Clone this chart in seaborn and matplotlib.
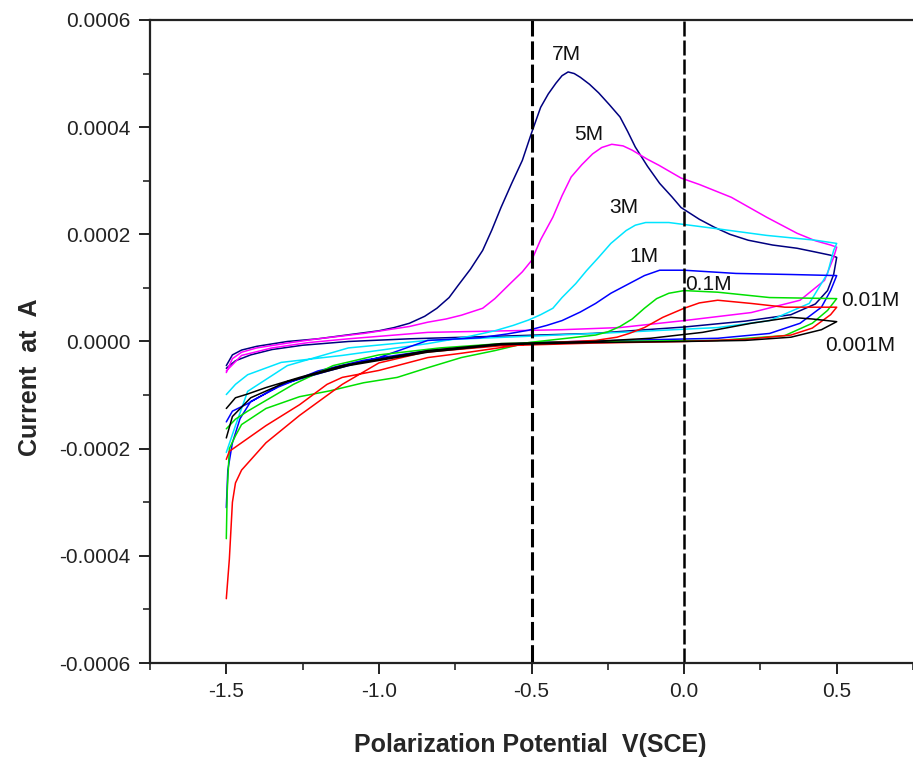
import pandas as pd
import matplotlib.pyplot as plt
import matplotlib.ticker as mticker
import seaborn as sns

# Cyclic voltammograms, current in units of 1e-4 A
# each curve: peak branch (-1.5 -> 0.5) then baseline branch (0.5 -> -1.5)
v_7M = [-1.50, -1.48, -1.45, -1.40, -1.30, -1.20, -1.00, -0.95, -0.90, -0.85, -0.81, -0.77, -0.74, -0.70,
        -0.66, -0.63, -0.60, -0.565, -0.53, -0.50, -0.47, -0.445, -0.42, -0.40, -0.38, -0.36, -0.34, -0.31,
        -0.28, -0.245, -0.21, -0.185, -0.16, -0.12, -0.08, -0.04, -0.01, 0.05, 0.10, 0.15, 0.21, 0.29,
        0.37, 0.43, 0.48, 0.50,
        0.49, 0.47, 0.43, 0.35, 0.20, 0.00, -0.30, -0.60, -0.90, -1.10, -1.25, -1.35, -1.42, -1.47, -1.50]
i_7M = [-0.45, -0.25, -0.16, -0.09, 0.00, 0.05, 0.20, 0.26, 0.34, 0.47, 0.62, 0.82, 1.05, 1.35,
        1.70, 2.08, 2.50, 2.95, 3.38, 3.89, 4.37, 4.62, 4.82, 4.96, 5.03, 5.00, 4.93, 4.80,
        4.64, 4.42, 4.19, 3.92, 3.63, 3.27, 2.95, 2.70, 2.50, 2.28, 2.13, 2.00, 1.89, 1.80,
        1.74, 1.67, 1.61, 1.57,
        1.25, 0.95, 0.70, 0.50, 0.38, 0.27, 0.15, 0.10, 0.05, 0.00, -0.07, -0.15, -0.25, -0.36, -0.50]

v_5M = [-1.50, -1.48, -1.45, -1.40, -1.30, -1.20, -1.05, -0.90, -0.84, -0.78, -0.73, -0.66, -0.62, -0.57,
        -0.53, -0.50, -0.47, -0.43, -0.40, -0.37, -0.335, -0.30, -0.27, -0.237, -0.20, -0.17, -0.12,
        -0.083, -0.01, 0.05, 0.155, 0.27, 0.37, 0.43, 0.48, 0.50,
        0.49, 0.46, 0.38, 0.22, 0.00, -0.21, -0.40, -0.84, -1.10, -1.23, -1.35, -1.45, -1.50]
i_5M = [-0.58, -0.32, -0.20, -0.12, -0.03, 0.05, 0.15, 0.28, 0.36, 0.42, 0.49, 0.62, 0.80, 1.08,
        1.30, 1.51, 1.90, 2.32, 2.72, 3.07, 3.30, 3.50, 3.62, 3.68, 3.65, 3.57, 3.40,
        3.29, 3.05, 2.93, 2.69, 2.32, 2.02, 1.88, 1.80, 1.76,
        1.57, 1.14, 0.77, 0.54, 0.39, 0.26, 0.22, 0.17, 0.05, -0.02, -0.12, -0.26, -0.55]

v_3M = [-1.50, -1.47, -1.43, -1.32, -1.12, -0.84, -0.70, -0.62, -0.56, -0.51, -0.47, -0.43, -0.40, -0.355,
        -0.32, -0.28, -0.24, -0.19, -0.16, -0.126, -0.05, 0.10, 0.27, 0.43, 0.50,
        0.49, 0.47, 0.41, 0.28, 0.11, -0.21, -0.50, -0.84, -1.10, -1.30, -1.43, -1.47, -1.50]
i_3M = [-0.99, -0.80, -0.62, -0.39, -0.26, -0.04, 0.10, 0.20, 0.30, 0.40, 0.50, 0.62, 0.82, 1.08,
        1.32, 1.57, 1.83, 2.07, 2.17, 2.22, 2.22, 2.11, 1.98, 1.89, 1.83,
        1.70, 1.27, 0.71, 0.39, 0.26, 0.17, 0.10, 0.02, -0.12, -0.45, -0.93, -1.57, -2.07]

v_1M = [-1.50, -1.48, -1.43, -1.32, -1.16, -1.00, -0.84, -0.67, -0.58, -0.51, -0.45, -0.40, -0.34, -0.29,
        -0.24, -0.18, -0.13, -0.08, 0.00, 0.17, 0.35, 0.50,
        0.48, 0.45, 0.38, 0.28, 0.11, -0.21, -0.50, -0.84, -1.05, -1.20, -1.33, -1.42, -1.455, -1.48,
        -1.495, -1.50]
i_1M = [-1.50, -1.30, -1.16, -0.80, -0.54, -0.30, 0.02, 0.07, 0.14, 0.21, 0.30, 0.39, 0.55, 0.71,
        0.90, 1.08, 1.23, 1.33, 1.33, 1.27, 1.25, 1.23,
        0.95, 0.64, 0.34, 0.15, 0.06, 0.02, -0.02, -0.17, -0.35, -0.55, -0.85, -1.12, -1.44, -1.89,
        -2.40, -3.10]

v_01M = [-1.50, -1.497, -1.49, -1.47, -1.45, -1.37, -1.26, -1.16, -1.05, -0.94, -0.84, -0.73, -0.62, -0.51,
         -0.29, -0.25, -0.21, -0.17, -0.13, -0.09, -0.05, 0.00, 0.11, 0.28, 0.50,
         0.47, 0.42, 0.33, 0.11, -0.30, -0.60, -0.80, -1.00, -1.15, -1.28, -1.37, -1.43, -1.47, -1.50]
i_01M = [-3.68, -2.80, -2.00, -1.76, -1.55, -1.25, -1.03, -0.92, -0.77, -0.67, -0.49, -0.30, -0.17, -0.02,
         0.12, 0.18, 0.28, 0.42, 0.62, 0.80, 0.90, 0.95, 0.92, 0.82, 0.80,
         0.58, 0.34, 0.11, 0.02, 0.00, -0.04, -0.12, -0.25, -0.45, -0.80, -1.10, -1.30, -1.45, -1.63]

v_001M = [-1.50, -1.49, -1.45, -1.37, -1.26, -1.17, -1.12, -1.00, -0.84, -0.73, -0.51, -0.29, -0.22, -0.18,
          -0.13, -0.07, 0.00, 0.05, 0.11, 0.22, 0.33, 0.50,
          0.48, 0.42, 0.35, 0.20, 0.00, -0.30, -0.60, -0.85, -1.00, -1.12, -1.26, -1.37, -1.45, -1.47,
          -1.48, -1.49, -1.50]
i_001M = [-2.20, -2.05, -1.89, -1.57, -1.18, -0.80, -0.67, -0.54, -0.30, -0.22, -0.04, 0.02, 0.08, 0.15,
          0.26, 0.45, 0.62, 0.72, 0.77, 0.71, 0.64, 0.64,
          0.50, 0.25, 0.12, 0.04, 0.00, -0.03, -0.08, -0.20, -0.40, -0.80, -1.38, -1.89, -2.40, -2.64,
          -3.00, -4.06, -4.80]

v_0001M = [-1.50, -1.47, -1.43, -1.37, -1.26, -1.12, -0.84, -0.60, -0.30, -0.11, 0.06, 0.22, 0.35, 0.42, 0.50,
           0.45, 0.35, 0.20, 0.00, -0.30, -0.60, -0.84, -1.10, -1.30, -1.42, -1.48, -1.50]
i_0001M = [-1.25, -1.05, -0.98, -0.86, -0.67, -0.45, -0.17, -0.04, 0.00, 0.06, 0.17, 0.34, 0.45, 0.42, 0.37,
           0.22, 0.08, 0.02, 0.00, -0.02, -0.06, -0.20, -0.45, -0.75, -1.05, -1.40, -1.80]

conc_names = ['7M', '5M', '3M', '1M', '0.1M', '0.01M', '0.001M']
conc_v = [v_7M, v_5M, v_3M, v_1M, v_01M, v_001M, v_0001M]
conc_i = [i_7M, i_5M, i_3M, i_1M, i_01M, i_001M, i_0001M]
colors = ['#000080', '#ff00ff', '#00e5ff', '#0000ff', '#00e000', '#ff0000', '#000000']

# label positions (V, current 1e-4 A)
label_v = [-0.384, -0.312, -0.198, -0.132, 0.08, 0.61, 0.577]
label_i = [5.35, 3.87, 2.50, 1.59, 1.07, 0.77, -0.07]

rows = []
for name, vs, cs in zip(conc_names, conc_v, conc_i):
    for k, (v, c) in enumerate(zip(vs, cs)):
        rows.append({'Conc': name, 'step': k, 'V': v, 'I': c * 1e-4})
df = pd.DataFrame(rows)

sns.set_style('ticks')
plt.rcParams['font.family'] = ['Liberation Sans', 'DejaVu Sans']

fig = plt.figure(figsize=(9.13, 7.62), dpi=100)
ax = fig.add_axes([0.1643, 0.1299, 0.8357, 0.8439])

sns.lineplot(data=df, x='V', y='I', hue='Conc', palette=dict(zip(conc_names, colors)),
             sort=False, estimator=None, linewidth=1.1, legend=False, ax=ax)

ax.axvline(-0.5, color='black', linestyle=(0, (6, 1.6)), linewidth=2.2)
ax.axvline(0.0, color='black', linestyle=(0, (6, 1.6)), linewidth=1.8)

for name, lv, li in zip(conc_names, label_v, label_i):
    ax.text(lv, li * 1e-4, name, fontsize=15, ha='center', va='center', color='#111111')

ax.set_xlim(-1.75, 0.75)
ax.set_ylim(-0.0006, 0.0006)
ax.xaxis.set_major_locator(mticker.MultipleLocator(0.5))
ax.xaxis.set_minor_locator(mticker.MultipleLocator(0.25))
ax.yaxis.set_major_locator(mticker.MultipleLocator(0.0002))
ax.yaxis.set_minor_locator(mticker.MultipleLocator(0.0001))
ax.xaxis.set_major_formatter(mticker.FormatStrFormatter('%.1f'))
ax.yaxis.set_major_formatter(mticker.FormatStrFormatter('%.4f'))
ax.tick_params(which='major', direction='out', length=8, width=1.4, labelsize=15, pad=6, colors='#222222')
ax.tick_params(which='minor', direction='out', length=5, width=1.2)
ax.spines['right'].set_visible(False)
for s in ['left', 'bottom', 'top']:
    ax.spines[s].set_linewidth(1.6)
    ax.spines[s].set_color('#222222')
ax.set_xlabel('')
ax.set_ylabel('')

fig.text(0.581, 1 - 745 / 762, 'Polarization Potential  V(SCE)', fontsize=18, fontweight='bold',
         ha='center', va='center')
fig.text(30 / 913, 1 - 377 / 762, 'Current  at  A', fontsize=18, fontweight='bold',
         ha='center', va='center', rotation=90)

plt.savefig('out.png', dpi=100)
